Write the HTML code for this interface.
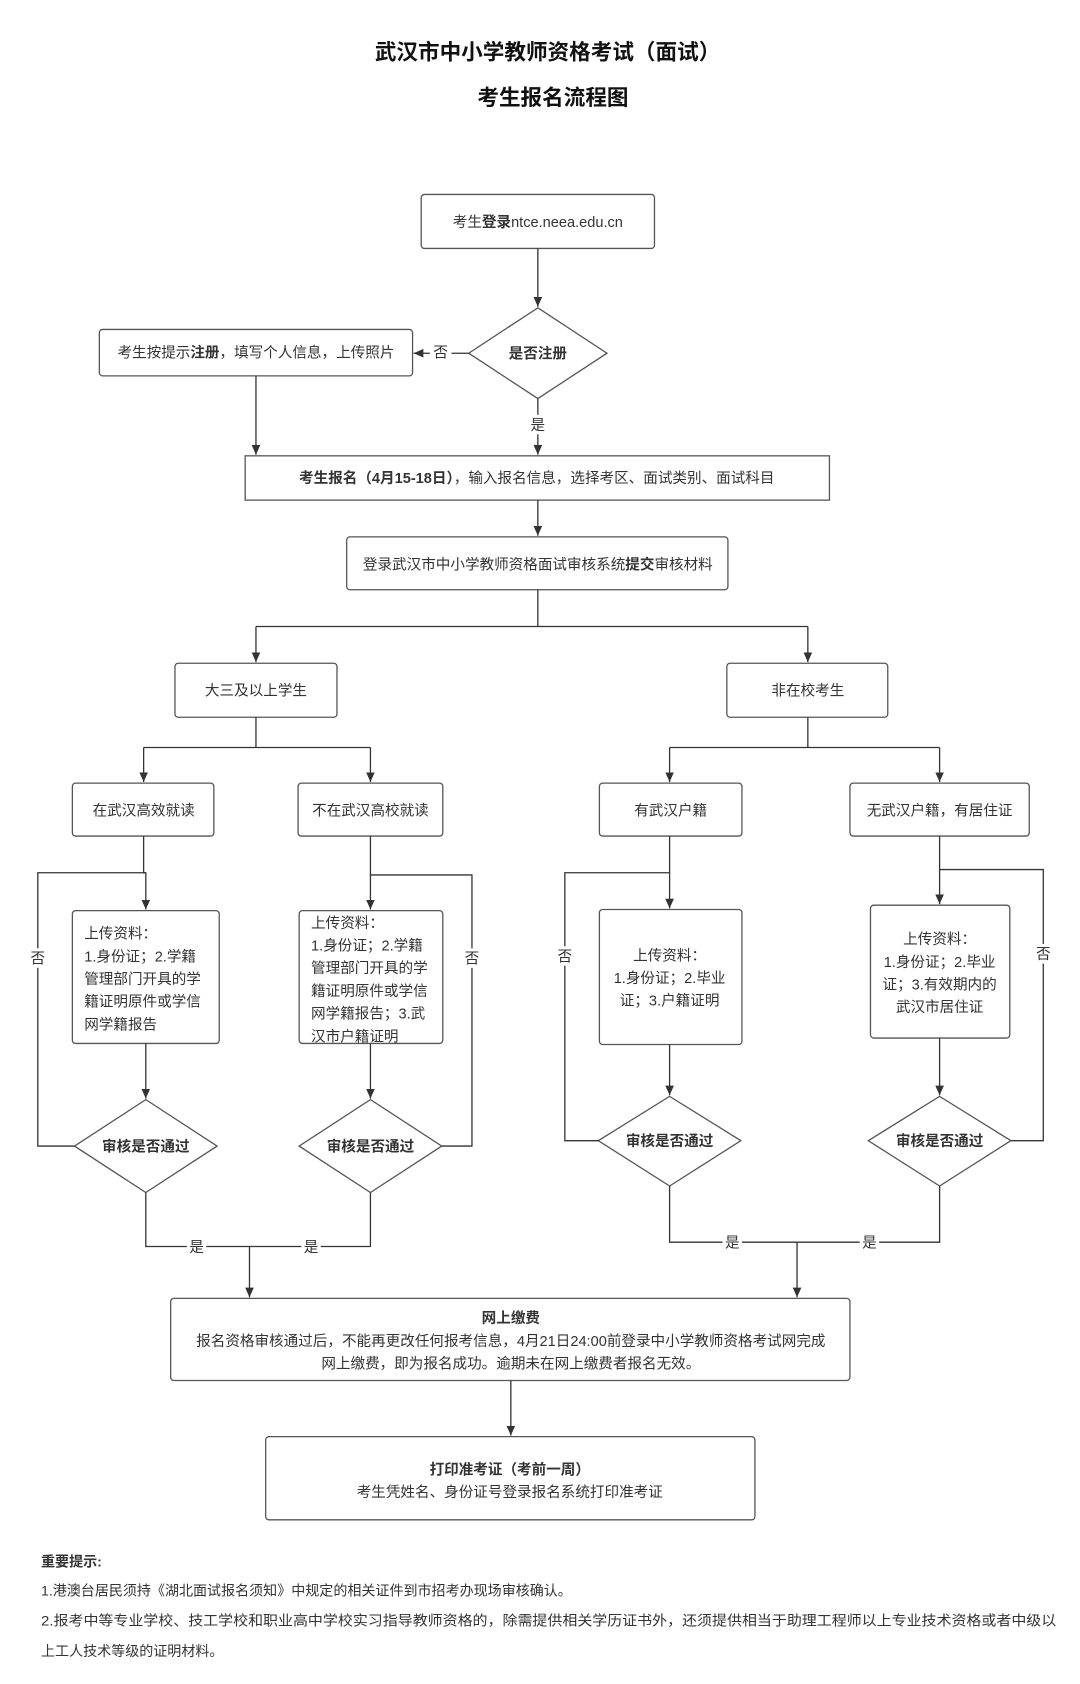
<!DOCTYPE html>
<html><head><meta charset="utf-8"><style>
html,body{margin:0;padding:0;background:#fff}
svg{display:block}
text{font-family:"Liberation Sans","Noto Sans CJK SC",sans-serif;fill:#333;font-size:13.5px}
.b{font-weight:bold}
.t{font-size:20px;font-weight:bold;fill:#111}
</style></head><body>
<svg width="1080" height="1684" viewBox="0 0 1000 1559" preserveAspectRatio="none" xmlns="http://www.w3.org/2000/svg">
<defs><marker id="a" markerWidth="10" markerHeight="10" refX="9" refY="5" orient="auto" markerUnits="userSpaceOnUse"><path d="M0,1 L9,5 L0,9 Z" fill="#333"/></marker></defs>
<text class="t" x="507" y="55" text-anchor="middle">武汉市中小学教师资格考试（面试）</text>
<text class="t" x="512" y="97" text-anchor="middle">考生报名流程图</text>
<g fill="#fff" stroke="#555" stroke-width="1.2">
<rect x="390" y="180" width="216" height="50" rx="3"/>
<polygon points="498,285 562,327 498,369 434,327"/>
<rect x="92" y="305" width="290" height="43" rx="3"/>
<rect x="227" y="422" width="541" height="41"/>
<rect x="321" y="497" width="353" height="49" rx="3"/>
<rect x="162" y="614" width="150" height="50" rx="3"/>
<rect x="673" y="614" width="149" height="50" rx="3"/>
<rect x="67" y="725" width="131" height="49" rx="3"/>
<rect x="276" y="725" width="134" height="49" rx="3"/>
<rect x="555" y="725" width="132" height="49" rx="3"/>
<rect x="787" y="725" width="166" height="49" rx="3"/>
<rect x="67" y="843" width="136" height="123" rx="3"/>
<rect x="277" y="843" width="133" height="123" rx="3"/>
<rect x="555" y="842" width="132" height="125" rx="3"/>
<rect x="806" y="838" width="129" height="123" rx="3"/>
<polygon points="135,1018 201,1061 135,1104 69,1061"/>
<polygon points="343,1018 409,1061 343,1104 277,1061"/>
<polygon points="620,1015 686,1056 620,1098 554,1056"/>
<polygon points="870,1015 936,1056 870,1098 804,1056"/>
<rect x="158" y="1202" width="629" height="76" rx="3"/>
<rect x="246" y="1330" width="453" height="77" rx="3"/>
</g>
<g fill="none" stroke="#333" stroke-width="1.2">
<path d="M498,230 V284" marker-end="url(#a)"/>
<path d="M434,327 H383" marker-end="url(#a)"/>
<path d="M237,348 V421" marker-end="url(#a)"/>
<path d="M498,369 V421" marker-end="url(#a)"/>
<path d="M498,463 V496" marker-end="url(#a)"/>
<path d="M498,546 V580 M237,580 H748"/>
<path d="M237,580 V613" marker-end="url(#a)"/>
<path d="M748,580 V613" marker-end="url(#a)"/>
<path d="M237,664 V692 M133,692 H343 M748,664 V692 M620,692 H870"/>
<path d="M133,692 V724" marker-end="url(#a)"/>
<path d="M343,692 V724" marker-end="url(#a)"/>
<path d="M620,692 V724" marker-end="url(#a)"/>
<path d="M870,692 V724" marker-end="url(#a)"/>
<path d="M133,774 V808 H135 V842" marker-end="url(#a)"/>
<path d="M69,1061 H35 V808 H135"/>
<path d="M343,774 V842" marker-end="url(#a)"/>
<path d="M409,1061 H437 V810 H343"/>
<path d="M620,774 V841" marker-end="url(#a)"/>
<path d="M554,1056 H523 V808 H620"/>
<path d="M870,774 V837" marker-end="url(#a)"/>
<path d="M936,1056 H966 V805 H870"/>
<path d="M135,966 V1017" marker-end="url(#a)"/>
<path d="M343,966 V1017" marker-end="url(#a)"/>
<path d="M620,967 V1014" marker-end="url(#a)"/>
<path d="M870,961 V1014" marker-end="url(#a)"/>
<path d="M135,1104 V1154 H343 V1104 M620,1098 V1150 H870 V1098"/>
<path d="M231,1154 V1201" marker-end="url(#a)"/>
<path d="M738,1150 V1201" marker-end="url(#a)"/>
<path d="M473,1278 V1329" marker-end="url(#a)"/>
</g>
<g fill="#fff"><rect x="398" y="318" width="20" height="18"/><rect x="489" y="384" width="18" height="18"/>
<rect x="26" y="878" width="18" height="18"/><rect x="428" y="878" width="18" height="18"/><rect x="514" y="876" width="18" height="18"/><rect x="957" y="874" width="18" height="18"/>
<rect x="173" y="1145" width="18" height="18"/><rect x="279" y="1145" width="18" height="18"/><rect x="669" y="1141" width="18" height="18"/><rect x="796" y="1141" width="18" height="18"/></g>
<text x="498" y="210" text-anchor="middle">考生<tspan class="b">登录</tspan>ntce.neea.edu.cn</text>
<text x="498" y="332" text-anchor="middle" class="b">是否注册</text>
<text x="237" y="331" text-anchor="middle">考生按提示<tspan class="b">注册</tspan>，填写个人信息，上传照片</text>
<text x="408" y="331" text-anchor="middle">否</text>
<text x="498" y="398" text-anchor="middle">是</text>
<text x="497" y="447" text-anchor="middle"><tspan class="b">考生报名（4月15-18日）</tspan>，输入报名信息，选择考区、面试类别、面试科目</text>
<text x="498" y="527" text-anchor="middle">登录武汉市中小学教师资格面试审核系统<tspan class="b">提交</tspan>审核材料</text>
<text x="237" y="644" text-anchor="middle">大三及以上学生</text>
<text x="748" y="644" text-anchor="middle">非在校考生</text>
<text x="133" y="755" text-anchor="middle">在武汉高效就读</text>
<text x="343" y="755" text-anchor="middle">不在武汉高校就读</text>
<text x="621" y="755" text-anchor="middle">有武汉户籍</text>
<text x="870" y="755" text-anchor="middle">无武汉户籍，有居住证</text>
<g>
<text x="78" y="869">上传资料：</text><text x="78" y="890">1.身份证；2.学籍</text><text x="78" y="911">管理部门开具的学</text><text x="78" y="932">籍证明原件或学信</text><text x="78" y="953">网学籍报告</text>
<text x="288" y="859">上传资料：</text><text x="288" y="880">1.身份证；2.学籍</text><text x="288" y="901">管理部门开具的学</text><text x="288" y="922">籍证明原件或学信</text><text x="288" y="943">网学籍报告；3.武</text><text x="288" y="964">汉市户籍证明</text>
<text x="620" y="889" text-anchor="middle">上传资料：</text><text x="620" y="910" text-anchor="middle">1.身份证；2.毕业</text><text x="620" y="931" text-anchor="middle">证；3.户籍证明</text>
<text x="870" y="874" text-anchor="middle">上传资料：</text><text x="870" y="895" text-anchor="middle">1.身份证；2.毕业</text><text x="870" y="916" text-anchor="middle">证；3.有效期内的</text><text x="870" y="937" text-anchor="middle">武汉市居住证</text>
</g>
<text x="135" y="1066" text-anchor="middle" class="b">审核是否通过</text>
<text x="343" y="1066" text-anchor="middle" class="b">审核是否通过</text>
<text x="620" y="1061" text-anchor="middle" class="b">审核是否通过</text>
<text x="870" y="1061" text-anchor="middle" class="b">审核是否通过</text>
<text x="35" y="892" text-anchor="middle">否</text><text x="437" y="892" text-anchor="middle">否</text>
<text x="523" y="890" text-anchor="middle">否</text><text x="966" y="888" text-anchor="middle">否</text>
<text x="182" y="1159" text-anchor="middle">是</text><text x="288" y="1159" text-anchor="middle">是</text>
<text x="678" y="1155" text-anchor="middle">是</text><text x="805" y="1155" text-anchor="middle">是</text>
<text x="473" y="1225" text-anchor="middle" class="b">网上缴费</text>
<text x="473" y="1246" text-anchor="middle">报名资格审核通过后，不能再更改任何报考信息，4月21日24:00前登录中小学教师资格考试网完成</text>
<text x="473" y="1267" text-anchor="middle">网上缴费，即为报名成功。逾期未在网上缴费者报名无效。</text>
<text x="472" y="1365" text-anchor="middle" class="b">打印准考证（考前一周）</text>
<text x="472" y="1386" text-anchor="middle">考生凭姓名、身份证号登录报名系统打印准考证</text>
<text x="38" y="1450" class="b" style="font-size:13px">重要提示:</text>
<text x="38" y="1477" style="font-size:13px">1.港澳台居民须持《湖北面试报名须知》中规定的相关证件到市招考办现场审核确认。</text>
<text x="38" y="1505" style="font-size:13px" textLength="940" lengthAdjust="spacingAndGlyphs">2.报考中等专业学校、技工学校和职业高中学校实习指导教师资格的，除需提供相关学历证书外，还须提供相当于助理工程师以上专业技术资格或者中级以</text>
<text x="38" y="1533" style="font-size:13px">上工人技术等级的证明材料。</text>
</svg>
</body></html>
